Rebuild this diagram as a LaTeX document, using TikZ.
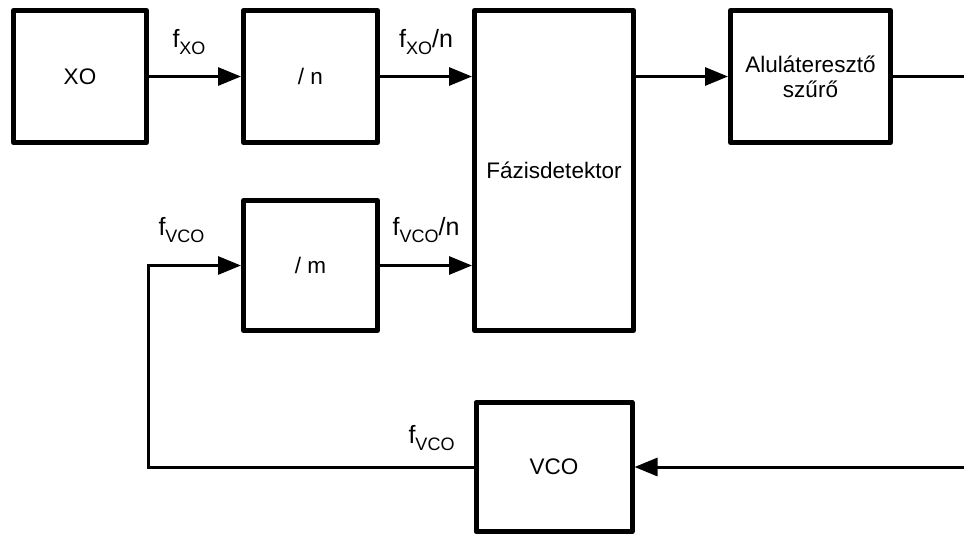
\documentclass[tikz,border=0pt]{standalone}
\usepackage{fontspec}
\setmainfont{Liberation Sans}
\usetikzlibrary{arrows.meta,positioning}
\newcommand{\lowsub}[1]{\raisebox{-7pt}{\fontsize{18}{18}\selectfont#1}}

\begin{document}
\begin{tikzpicture}[x=1pt,y=-1pt,node distance=92pt,>={Triangle[length=23pt,width=18pt]},
  every node/.style={font=\fontsize{22.5}{25}\selectfont},
  blk/.style={draw,line width=5pt,line join=round,inner sep=0pt,align=center,minimum width=134pt,minimum height=132pt},
  wire/.style={line width=3pt},
  lbl/.style={inner sep=0pt,outer sep=0pt,font=\fontsize{25}{27}\selectfont}]
\useasboundingbox (0,0) rectangle (964,536);
% blocks
\node[blk,minimum width=133pt] (xo) at (80,76.5) {XO};
\node[blk,right=of xo] (dn) {/ n};
\node[blk,minimum width=159pt,minimum height=320pt,right=of dn.north east,anchor=north west] (fd) {Fázisdetektor};
\node[blk,minimum width=160pt,right=of fd.north east,anchor=north west] (lpf) {Aluláteresztő\\szűrő};
\node[blk,minimum height=130pt,below=53pt of dn] (dm) {/ m};
\node[blk,minimum width=156pt,minimum height=129pt,below=67pt of fd] (vco) {VCO};
\coordinate (edge) at (964,0);
\coordinate (fb) at (148,0);
% connectors
\draw[wire,->] (xo) -- node[lbl,above=22pt,xshift=-6pt] {f\lowsub{XO}} (dn);
\draw[wire,->] (dn.east) -- node[lbl,above=22pt] {f\lowsub{XO}/n} (dn.east -| fd.west);
\draw[wire,->] (lpf.west -| fd.east) -- (lpf.west);
\draw[wire] (lpf.east) -- (lpf.east -| edge);
\draw[wire,->] (dm.east) -- node[lbl,above=23pt] {f\lowsub{VCO}/n} (dm.east -| fd.west);
\draw[wire,->] (vco.east -| edge) -- (vco.east);
\draw[wire,->] (vco.west) -- node[lbl,pos=0,above left=16pt and 19pt] {f\lowsub{VCO}} (vco.west -| fb)
  |- node[lbl,pos=0.68,above=23pt] {f\lowsub{VCO}} (dm.west);
\end{tikzpicture}
\end{document}
